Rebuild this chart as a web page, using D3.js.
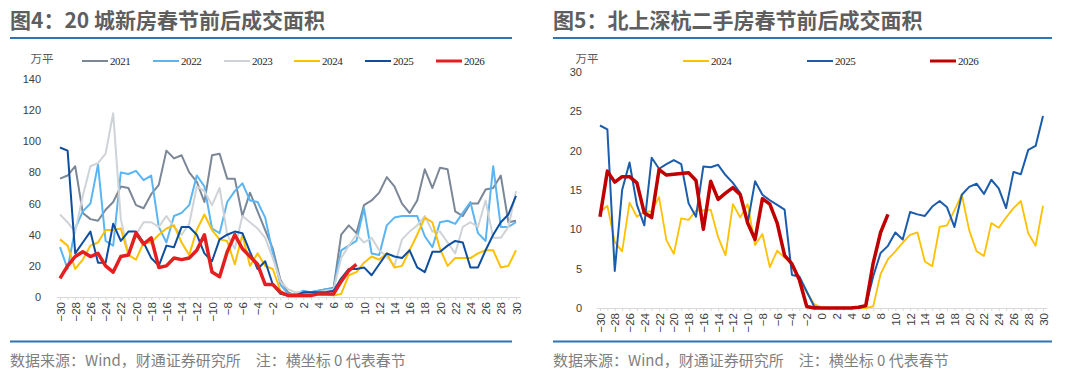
<!DOCTYPE html>
<html>
<head>
<meta charset="utf-8">
<script src="https://cdn.jsdelivr.net/npm/d3@7"></script>
<style>
  body { margin: 0; background: #fff; }
  svg { display: block; }
</style>
</head>
<body>
<div id="chart"></div>
<script>
// Categories: days around Spring Festival (0 = festival day)
const days = d3.range(-30, 31);

// Figure 4: 20-city new home sales area (万平)
const left2021 = [76,78,84,54,50,49,56,61,71,70,59,57,66,72,94,89,91,80,74,61,91,92,76,76,52,67,55,43,31,11,3,1,2,3,4,5,6,40,46,41,59,62,67,77,71,60,54,62,82,70,83,82,55,52,60,60,69,70,78,48,49];
const left2022 = [32,18,44,55,60,85,36,33,80,79,81,75,78,45,35,52,54,59,78,71,44,41,61,68,73,62,61,51,28,8,2,2,4,3,4,5,5,30,33,36,57,28,27,46,51,52,52,52,39,32,48,49,47,54,61,41,36,84,45,45,48];
const left2023 = [53,48,42,65,84,86,92,118,50,28,40,48,48,45,52,45,40,47,71,68,59,70,40,31,52,48,44,38,25,10,5,3,3,2,3,4,5,25,33,40,35,38,30,26,20,37,42,46,52,42,42,35,28,45,48,45,62,38,38,45,68];
const left2024 = [37,33,18,24,33,35,43,43,44,27,24,35,35,40,44,46,35,27,43,53,43,37,36,21,40,20,28,20,18,4,1,1,1,2,2,2,1,2,14,16,22,26,24,28,19,20,30,40,51,48,31,20,25,25,25,28,30,30,19,20,30];
const left2025 = [96,94,28,35,42,22,22,47,36,42,42,35,25,20,33,32,45,45,40,28,23,37,40,42,41,29,18,23,8,2,1,1,3,3,3,3,4,12,18,18,19,14,21,28,26,25,30,19,16,29,29,33,36,35,19,19,30,40,48,53,65];
const left2026 = [12,20,26,29,26,28,20,16,26,27,41,34,38,19,20,25,24,25,30,40,16,13,29,40,31,26,21,8,8,3,1,1,1,1,2,2,2,10,17,21];
const leftTicks = [0, 20, 40, 60, 80, 100, 120, 140];

// Figure 5: Beijing/Shanghai/Shenzhen/Hangzhou second-hand home sales area (万平)
const right2024 = [12.2,13,8.4,7.2,13.4,11.6,12.2,12.3,14.1,8.6,6.9,11.4,11.2,12.4,12.4,12.5,9.0,6.7,13.2,11.5,13.2,8.0,9.4,5.2,7.3,6.4,5.7,3.6,2.0,0.5,0.1,0,0,0,0,0,0,0.2,4.3,6.2,7.2,8.3,9.3,9.6,5.9,5.3,10.3,10.5,12.4,14.4,9.9,7.2,6.6,10.8,10.2,11.5,12.7,13.6,9.5,7.9,13.0];
const right2025 = [23.2,22.7,4.7,15,18.5,13.1,10.5,19.1,17.7,18.3,18.8,18.3,13.3,11.6,18.0,17.9,18.2,16.9,15.9,14.6,10.8,16.1,14.4,13.7,13.1,12.5,4.2,4.0,2.1,0.2,0,0,0,0,0,0,0.25,4.0,7.0,7.9,9.6,8.7,12.2,11.9,11.7,12.9,13.6,12.8,10.3,14.4,15.4,15.8,14.5,16.3,15.2,12.7,17.3,17.0,20.1,20.6,24.4];
const right2026 = [11.6,17.4,16.0,16.7,16.7,15.9,12.1,11.5,17.6,16.9,17.0,17.1,17.2,16.2,10.0,16.1,13.8,14.6,15.3,14.4,10.8,8.7,13.9,13.2,10.8,6.7,5.6,3.6,0.2,0,0,0,0,0,0,0.1,0.3,5.7,9.6,11.9];
const rightTicks = [0, 5, 10, 15, 20, 25, 30];

// Texts
const titles = ["图4：20 城新房春节前后成交面积", "图5：北上深杭二手房春节前后成交面积"];
const source = "数据来源：Wind，财通证券研究所\u3000注：横坐标 0 代表春节";
const unit = "万平";

// Chart definitions (built from the arrays above)
const charts = [
    {
        left: 10, right: 512,
        title: titles[0],
        xRange: [56.2, 519.8], yRange: [297, 79], yMax: 140, yTicks: leftTicks, yLabelX: 41,
        unitX: 42, legendY: 61,
        series: [
            {name: "2021", values: left2021, color: "#7b8797", width: 2,   lx: 82},
            {name: "2022", values: left2022, color: "#5ab5f2", width: 2,   lx: 153},
            {name: "2023", values: left2023, color: "#cfd3d8", width: 2,   lx: 224},
            {name: "2024", values: left2024, color: "#ffc000", width: 2,   lx: 294},
            {name: "2025", values: left2025, color: "#0d4e9e", width: 2,   lx: 365},
            {name: "2026", values: left2026, color: "#e3201f", width: 3.5, lx: 436}
        ]
    },
    {
        left: 553, right: 1052,
        title: titles[1],
        xRange: [596.3, 1046.7], yRange: [308, 72], yMax: 30, yTicks: rightTicks, yLabelX: 582,
        unitX: 587, legendY: 61,
        series: [
            {name: "2024", values: right2024, color: "#ffc000", width: 1.8, lx: 683},
            {name: "2025", values: right2025, color: "#1b5cad", width: 2,   lx: 807},
            {name: "2026", values: right2026, color: "#c00000", width: 3.5, lx: 930}
        ]
    }
];

const svg = d3.select('#chart').append('svg')
    .attr('width', 1080)
    .attr('height', 376);

charts.forEach(c => {
    const g = svg.append('g');

    // Title and the blue rules
    g.append('text')
        .attr('x', c.left)
        .attr('y', 28)
        .style('font-family', '"Noto Sans CJK SC", sans-serif')
        .style('font-size', '21px')
        .style('font-weight', 'bold')
        .style('fill', '#5e5e5e')
        .text(c.title);

    [38, 341.5].forEach(y => {
        g.append('line')
            .attr('x1', c.left).attr('x2', c.right)
            .attr('y1', y).attr('y2', y)
            .style('stroke', '#2f74b5')
            .style('stroke-width', 2);
    });

    g.append('text')
        .attr('x', c.left)
        .attr('y', 366)
        .style('font-family', '"Noto Sans CJK SC", sans-serif')
        .style('font-size', '15px')
        .style('fill', '#7f7f7f')
        .text(source);

    // Scales
    const x = d3.scalePoint().domain(days).range(c.xRange).padding(0.5);
    const y = d3.scaleLinear().domain([0, c.yMax]).range(c.yRange);

    // X axis: tick at every day, label at even days, rotated
    const xAxis = g.append('g')
        .attr('transform', 'translate(0,' + c.yRange[0] + ')')
        .call(d3.axisBottom(x)
            .tickSize(3)
            .tickSizeOuter(0)
            .tickFormat(d => d % 2 === 0 ? d3.format('d')(d) : ''));
    xAxis.select('.domain').style('stroke', '#d9d9d9');
    xAxis.selectAll('.tick line').style('stroke', '#d9d9d9');
    xAxis.selectAll('.tick text')
        .attr('y', 0)
        .attr('x', -5)
        .attr('dy', '0.35em')
        .attr('transform', 'rotate(-90)')
        .style('text-anchor', 'end')
        .style('font-family', '"Liberation Sans", Arial, sans-serif')
        .style('font-size', '11.5px')
        .style('fill', '#404040');

    // Y axis: labels only
    const yAxis = g.append('g')
        .attr('transform', 'translate(' + c.yLabelX + ',0)')
        .call(d3.axisLeft(y).tickValues(c.yTicks).tickSize(0).tickPadding(0));
    yAxis.select('.domain').remove();
    yAxis.selectAll('.tick text')
        .style('font-family', '"Liberation Sans", Arial, sans-serif')
        .style('font-size', '11px')
        .style('fill', '#404040');

    // Unit label
    g.append('text')
        .attr('x', c.unitX)
        .attr('y', c.legendY - 2)
        .attr('dy', '0.35em')
        .style('text-anchor', 'middle')
        .style('font-family', '"Noto Sans CJK SC", sans-serif')
        .style('font-size', '11.5px')
        .style('fill', '#595959')
        .text(unit);

    // Lines
    const line = d3.line()
        .x((v, i) => x(days[i]))
        .y(v => y(v));

    c.series.forEach(s => {
        g.append('path')
            .datum(s.values)
            .attr('d', line)
            .style('fill', 'none')
            .style('stroke', s.color)
            .style('stroke-width', s.width)
            .style('stroke-linejoin', 'round');

        // Legend entry
        g.append('line')
            .attr('x1', s.lx).attr('x2', s.lx + 26)
            .attr('y1', c.legendY).attr('y2', c.legendY)
            .style('stroke', s.color)
            .style('stroke-width', s.width === 3.5 ? 3 : 2);
        g.append('text')
            .attr('x', s.lx + 28)
            .attr('y', c.legendY)
            .attr('dy', '0.35em')
            .style('font-family', '"Liberation Serif", serif')
            .style('font-size', '11px')
            .style('letter-spacing', '-0.4px')
            .style('fill', '#262626')
            .text(s.name);
    });
});
</script>
</body>
</html>
